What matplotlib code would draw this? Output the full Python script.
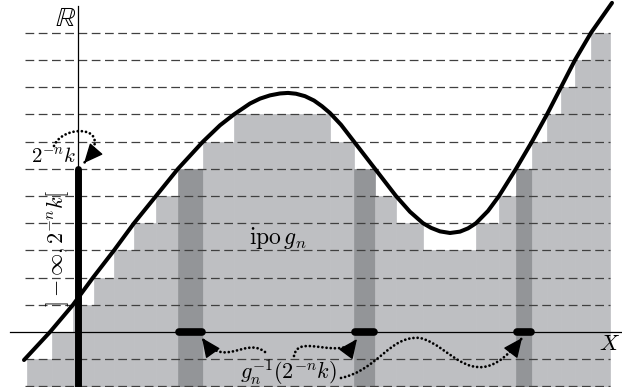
import numpy as np
import matplotlib
matplotlib.use("Agg")
import matplotlib.pyplot as plt
from matplotlib.patches import FancyArrowPatch, PathPatch
from matplotlib.path import Path

plt.rcParams['mathtext.fontset'] = 'cm'

# curve f (x in drawing units, y in levels of 2^-n)
curve_x = [24, 50, 73, 93, 114, 134, 156, 178, 203, 220, 234, 242, 250, 260, 270, 280,
           288, 296, 305, 314, 322, 330, 341, 354, 375, 396, 410, 423, 431, 440, 450,
           460, 468, 476, 488, 499, 516, 532, 547, 561, 575, 591, 612]
curve_y = [-1.03, 0, 1, 2, 3, 4, 5, 6, 7, 7.6, 8.0, 8.2, 8.4, 8.58, 8.7, 8.77,
           8.79, 8.76, 8.67, 8.51, 8.3, 8.05, 7.62, 7.0, 6.0, 5.0, 4.42, 4.0, 3.83, 3.7, 3.64,
           3.69, 3.81, 4.0, 4.45, 5.0, 6.0, 7.0, 8.0, 9.0, 10.0, 11.0, 12.1]

# step function g_n: edges and levels
step_edges = [27, 52, 73, 94, 114, 134, 156, 178, 203, 234, 330, 354, 375, 396, 423,
              476, 499, 516, 532, 547, 561, 575, 591, 610]
step_levels = [-1, 0, 1, 2, 3, 4, 5, 6, 7, 8, 7, 6, 5, 4, 3, 4, 5, 6, 7, 8, 9, 10, 11]
k_level = 6
grid_levels = [-2, -1, 1, 2, 3, 4, 5, 6, 7, 8, 9, 10, 11]

light = '#bebfc2'
dark = '#939598'
bottom = -3

fig = plt.figure(figsize=(6.22, 3.87), dpi=100)
ax = fig.add_axes([0, 0, 1, 1])
ax.set_xlim(0, 622)
ax.set_ylim(-2.022, 12.206)
ax.axis('off')

edges = np.array(step_edges)
levels = np.array(step_levels)
widths = np.diff(edges)
cols = [dark if l == k_level else light for l in levels]
ax.bar(edges[:-1], levels - bottom, width=widths, bottom=bottom, align='edge',
       color=cols, edgecolor=cols, linewidth=0.5, zorder=1)

for l in grid_levels:
    ax.plot([25, 610], [l, l], color='#404040', lw=0.9, dashes=(7, 3.6), zorder=2)

# axes
ax.plot([10, 622], [0, 0], color='k', lw=0.9, zorder=3)
ax.plot([78, 78], [bottom, 12.0], color='k', lw=0.9, zorder=3)

# ]-inf, 2^-n k[ on the vertical axis
ax.plot([78, 78], [bottom, k_level], color='k', lw=5, solid_capstyle='round', zorder=4)

# preimage segments
starts = edges[:-1][levels == k_level]
ends = edges[1:][levels == k_level]
for a, b in zip(starts, ends):
    ax.plot([a + 1, b - 1], [0, 0], color='k', lw=5.5, solid_capstyle='round', zorder=4)

ax.plot(curve_x, curve_y, color='k', lw=2.9, solid_capstyle='round', zorder=5)

dot = (0, (0.01, 1.5))


def dotted_arrow(verts):
    codes = [Path.MOVETO] + [Path.CURVE4] * (len(verts) - 1)
    pp = PathPatch(Path(verts, codes), fill=False, edgecolor='k', lw=2.0,
                   linestyle=dot, capstyle='round', zorder=6)
    ax.add_patch(pp)
    # solid head along the final tangent
    tip = ax.transData.transform(verts[-1])
    ctl = ax.transData.transform(verts[-2])
    d = (tip - ctl) / np.hypot(*(tip - ctl))
    back = ax.transData.inverted().transform(tip - d * 14)
    head = FancyArrowPatch(tuple(back), verts[-1],
                           arrowstyle='-|>,head_length=0.6,head_width=0.27',
                           mutation_scale=20, color='k', lw=1.0,
                           shrinkA=0, shrinkB=0, zorder=6)
    ax.add_patch(head)


dotted_arrow([(54, 6.84), (62, 7.65), (118, 7.65), (84, 6.21)])
dotted_arrow([(265, -0.735), (245, -0.15), (225, -1.40), (202, -0.22)])
dotted_arrow([(294, -0.88), (298, 0.0), (340, -1.10), (357, -0.26)])
dotted_arrow([(341, -1.69), (378, -1.40), (390, -0.11), (420, -0.22),
              (452, -0.48), (475, -2.5), (522, -0.22)])

ax.text(76, 11.54, r'$\mathbb{R}$', fontsize=20, ha='right', va='center',
        math_fontfamily='stix', zorder=7)
ax.text(620, -0.44, r'$X$', fontsize=16, ha='right', va='center', zorder=7)
ax.text(278, 3.24, r'$\mathrm{ipo}\,g_n$', fontsize=17, ha='center', va='baseline', zorder=7)
ax.text(76, 6.25, r'$2^{-n}k$', fontsize=15, ha='right', va='baseline', zorder=7)
ax.text(58, 3.09, r'$]-\infty,2^{-n}k[$', fontsize=16, rotation=90,
        ha='center', va='center', zorder=7)
ax.text(288, -1.76, r'$g_n^{-1}(2^{-n}k)$', fontsize=16, ha='center', va='baseline', zorder=7)

fig.savefig('out.png', dpi=100)
